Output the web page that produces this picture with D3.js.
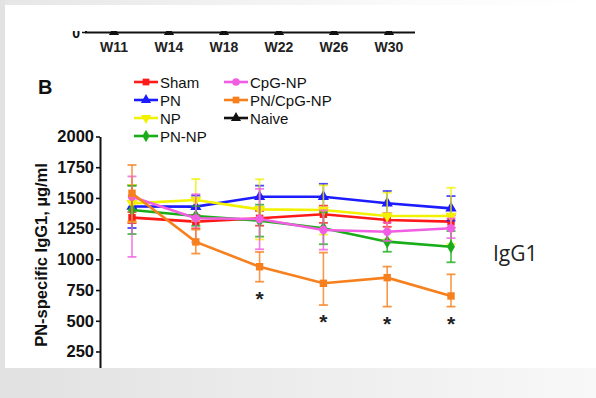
<!DOCTYPE html>
<html><head><meta charset="utf-8">
<script src="https://cdn.jsdelivr.net/npm/d3@7"></script>
<style>body{margin:0;background:#fff}svg{display:block}</style>
</head><body><script>
// Week labels and axis ticks
const weeks = ["W11", "W14", "W18", "W22", "W26", "W30"];
const yTicks = [250, 500, 750, 1000, 1250, 1500, 1750, 2000];

// Group names, colours, marker shapes
const groups = ["Sham", "PN", "NP", "PN-NP", "CpG-NP", "PN/CpG-NP", "Naive"];
const colors = ["#ff1a1a", "#1c1cff", "#f2f200", "#1aad1a", "#f25ee3", "#f7801e", "#111111"];
const shapes = ["square", "triangle", "triangleDown", "diamond", "circle", "square", "triangle"];

// Mean anti-PN IgG1 (µg/ml) per week, with error bar extents (up / down)
const shamMean = [1340, 1307, 1334, 1367, 1320, 1307];
const shamUp   = [45, 55, 60, 70, 55, 50];
const shamDown = [45, 55, 60, 70, 55, 50];
const pnMean = [1430, 1429, 1510, 1510, 1456, 1415];
const pnUp   = [175, 90, 90, 105, 100, 100];
const pnDown = [175, 90, 90, 105, 100, 100];
const npMean = [1456, 1483, 1407, 1402, 1353, 1353];
const npUp   = [150, 170, 245, 200, 190, 230];
const npDown = [150, 170, 245, 200, 190, 230];
const pnnpMean = [1402, 1353, 1315, 1253, 1144, 1103];
const pnnpUp   = [196, 80, 130, 130, 82, 127];
const pnnpDown = [196, 80, 130, 130, 82, 127];
const cpgMean = [1510, 1334, 1328, 1239, 1225, 1253];
const cpgUp   = [165, 196, 246, 160, 75, 80];
const cpgDown = [490, 196, 246, 160, 75, 80];
const comboMean = [1538, 1142, 940, 805, 851, 702];
const comboUp   = [230, 100, 120, 250, 90, 176];
const comboDown = [230, 95, 122, 177, 236, 87];

// Weeks where PN/CpG-NP differs significantly
const significant = ["W18", "W22", "W26", "W30"];

const series = [
  {mean: shamMean, up: shamUp, down: shamDown},
  {mean: pnMean, up: pnUp, down: pnDown},
  {mean: npMean, up: npUp, down: npDown},
  {mean: pnnpMean, up: pnnpUp, down: pnnpDown},
  {mean: cpgMean, up: cpgUp, down: cpgDown},
  {mean: comboMean, up: comboUp, down: comboDown}
].map((s, i) => ({...s, name: groups[i], color: colors[i], shape: shapes[i]}));

const W = 596, H = 398;
const svg = d3.select("body").append("svg").attr("width", W).attr("height", H);

// slide background
const defs = svg.append("defs");
const gb = defs.append("linearGradient").attr("id", "bandBottom");
gb.append("stop").attr("offset", "0%").attr("stop-color", "#e1e1e1");
gb.append("stop").attr("offset", "100%").attr("stop-color", "#f8f8f8");
const gt = defs.append("linearGradient").attr("id", "bandTop");
gt.append("stop").attr("offset", "0%").attr("stop-color", "#e6e6e6");
gt.append("stop").attr("offset", "70%").attr("stop-color", "#fbfbfb");
gt.append("stop").attr("offset", "100%").attr("stop-color", "#ffffff");
svg.append("rect").attr("width", W).attr("height", H).attr("fill", "#ffffff");
svg.append("rect").attr("width", W).attr("height", 5).attr("fill", "url(#bandTop)");
svg.append("rect").attr("width", 5).attr("height", H).attr("fill", "#e2e2e2");
svg.append("rect").attr("y", 368).attr("width", W).attr("height", H - 368).attr("fill", "url(#bandBottom)");

defs.append("clipPath").attr("id", "panelClip")
  .append("rect").attr("x", 5).attr("y", 31).attr("width", W - 5).attr("height", 368 - 31);

const font = "Liberation Sans, Arial, sans-serif";

function symbolPath(shape, size) {
  const t = {square: d3.symbolSquare, triangle: d3.symbolTriangle, triangleDown: d3.symbolTriangle,
             diamond: d3.symbolDiamond, circle: d3.symbolCircle}[shape];
  return d3.symbol().type(t).size(size)();
}
function symbolRotate(shape) { return shape === "triangleDown" ? " rotate(180)" : ""; }

const panel = svg.append("g").attr("clip-path", "url(#panelClip)");

// --- remnant of the upper panel: its week axis ---
const xTop = d3.scalePoint().domain(weeks).range([114, 389]);
const upper = panel.append("g");
upper.append("line").attr("x1", 85).attr("x2", 415).attr("y1", 32.5).attr("y2", 32.5)
  .attr("stroke", "#111").attr("stroke-width", 2);
upper.append("line").attr("x1", 86).attr("x2", 86).attr("y1", 20).attr("y2", 33)
  .attr("stroke", "#111").attr("stroke-width", 2);
upper.append("line").attr("x1", 82).attr("x2", 86).attr("y1", 32.5).attr("y2", 32.5)
  .attr("stroke", "#111").attr("stroke-width", 1.5);
upper.append("text").attr("x", 80).attr("y", 38).attr("text-anchor", "end")
  .attr("font-family", font).attr("font-weight", "bold").attr("font-size", 14).attr("fill", "#111").text("0");
upper.selectAll("path.naive").data(weeks).join("path")
  .attr("transform", d => `translate(${xTop(d)},32)`)
  .attr("d", symbolPath("triangle", 45)).attr("fill", "#111");
upper.selectAll("text.wk").data(weeks).join("text")
  .attr("x", d => xTop(d)).attr("y", 52).attr("text-anchor", "middle")
  .attr("font-family", font).attr("font-weight", "bold").attr("font-size", 14).attr("fill", "#222")
  .text(d => d);

// --- main panel ---
const x = d3.scalePoint().domain(weeks).range([132, 451]);
const y = d3.scaleLinear().domain([0, 2000]).range([382.2, 136.5]);

const yAxis = panel.append("g").attr("transform", "translate(100,0)")
  .call(d3.axisLeft(y).tickValues(yTicks).tickFormat(d3.format("d"))
    .tickSize(4).tickSizeOuter(0).tickPadding(2));
yAxis.select(".domain").attr("stroke", "#111").attr("stroke-width", 2);
yAxis.selectAll(".tick line").attr("stroke", "#111").attr("stroke-width", 1.6);
yAxis.selectAll(".tick text").attr("font-family", font).attr("font-weight", "bold")
  .attr("font-size", 16.5).attr("fill", "#111");

svg.append("text").attr("transform", "translate(47,255) rotate(-90)")
  .attr("text-anchor", "middle").attr("font-family", font).attr("font-weight", "bold")
  .attr("font-size", 16.5).attr("fill", "#111").text("PN-specific IgG1, µg/ml");

svg.append("text").attr("x", 38).attr("y", 94).attr("font-family", font)
  .attr("font-weight", "bold").attr("font-size", 20).attr("fill", "#111").text("B");

svg.append("text").attr("x", 493).attr("y", 261).attr("font-family", "Open Sans, sans-serif")
  .attr("font-size", 21).attr("fill", "#222").text("IgG1");

const line = d3.line().x((d, i) => x(weeks[i])).y(d => y(d));

series.forEach(s => {
  const g = panel.append("g");
  // error bars
  s.mean.forEach((m, i) => {
    const cx = x(weeks[i]);
    const y1 = y(m + s.up[i]), y2 = y(m - s.down[i]);
    g.append("line").attr("x1", cx).attr("x2", cx).attr("y1", y1).attr("y2", y2)
      .attr("stroke", s.color).attr("stroke-width", 1.6).attr("opacity", 0.8);
    [y1, y2].forEach(cy => g.append("line").attr("x1", cx - 4.5).attr("x2", cx + 4.5)
      .attr("y1", cy).attr("y2", cy).attr("stroke", s.color).attr("stroke-width", 1.8).attr("opacity", 0.8));
  });
  g.append("path").datum(s.mean).attr("d", line).attr("fill", "none")
    .attr("stroke", s.color).attr("stroke-width", 2.6);
  g.selectAll("path.m").data(s.mean).join("path")
    .attr("transform", (d, i) => `translate(${x(weeks[i])},${y(d)})` + symbolRotate(s.shape))
    .attr("d", symbolPath(s.shape, 55)).attr("fill", s.color);
});

// significance stars under the PN/CpG-NP error bars
const combo = series[5];
panel.selectAll("text.star").data(significant).join("text")
  .attr("x", d => x(d)).attr("y", d => {
    const i = weeks.indexOf(d);
    return y(combo.mean[i] - combo.down[i]) + 24;
  })
  .attr("text-anchor", "middle").attr("font-family", font).attr("font-weight", "bold")
  .attr("font-size", 21).attr("fill", "#222").text("*");

// legend
const legend = svg.append("g");
groups.forEach((name, i) => {
  const col = i < 4 ? 0 : 1;
  const row = i < 4 ? i : i - 4;
  const lx = col === 0 ? 134 : 224;
  const ly = 82 + row * 18;
  legend.append("line").attr("x1", lx).attr("x2", lx + 24).attr("y1", ly).attr("y2", ly)
    .attr("stroke", colors[i]).attr("stroke-width", 2.6);
  legend.append("path").attr("transform", `translate(${lx + 12},${ly})` + symbolRotate(shapes[i]))
    .attr("d", symbolPath(shapes[i], 45)).attr("fill", colors[i]);
  legend.append("text").attr("x", lx + 26).attr("y", ly + 5.5).attr("font-family", font)
    .attr("font-size", 15).attr("fill", "#111").text(name);
});
</script></body></html>
